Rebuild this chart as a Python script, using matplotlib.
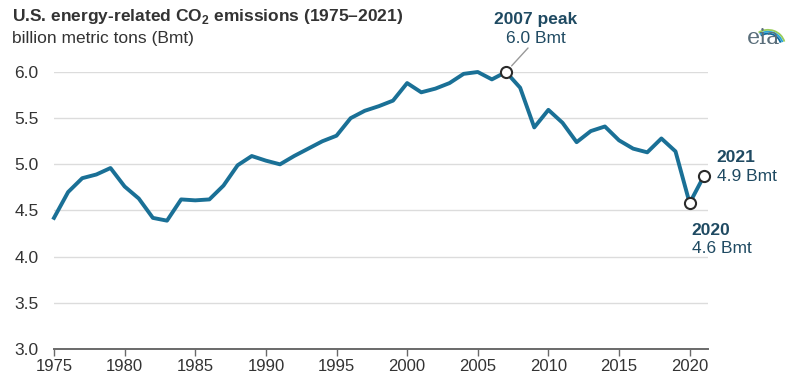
import numpy as np
import matplotlib
matplotlib.use("Agg")
import matplotlib.pyplot as plt
from matplotlib.patches import Arc

############################
# DATA
############################

years = list(range(1975, 2022))
emissions_bmt = [
    4.42, 4.70, 4.85, 4.89, 4.96, 4.76, 4.63, 4.42, 4.39, 4.62,  # 1975-1984
    4.61, 4.62, 4.77, 4.99, 5.09, 5.04, 5.00, 5.09, 5.17, 5.25,  # 1985-1994
    5.31, 5.50, 5.58, 5.63, 5.69, 5.88, 5.78, 5.82, 5.88, 5.98,  # 1995-2004
    6.00, 5.92, 6.00, 5.83, 5.40, 5.59, 5.45, 5.24, 5.36, 5.41,  # 2005-2014
    5.26, 5.17, 5.13, 5.28, 5.14, 4.58, 4.87,                    # 2015-2021
]

highlight_years = [2007, 2020, 2021]
highlight_bold = ["2007 peak", "2020", "2021"]
highlight_value = ["6.0 Bmt", "4.6 Bmt", "4.9 Bmt"]

yticks = [3.0, 3.5, 4.0, 4.5, 5.0, 5.5, 6.0]
xticks = list(range(1975, 2021, 5))

title = "U.S. energy-related CO$_2$ emissions (1975\u20132021)"
subtitle = "billion metric tons (Bmt)"

############################
# STYLE
############################

plt.rcParams["font.family"] = ["Liberation Sans", "DejaVu Sans"]
plt.rcParams["mathtext.fontset"] = "custom"
plt.rcParams["mathtext.rm"] = "Liberation Sans:bold"
line_color = "#1a7096"
label_color = "#1f4a62"
text_color = "#333333"
grid_color = "#dcdcdc"

############################
# PLOT
############################

fig = plt.figure(figsize=(7.86, 3.80), dpi=100)
ax = fig.add_axes([54 / 786, 1 - 349 / 380, (708 - 54) / 786, (349 - 72) / 380])

ax.plot(years, emissions_bmt, color=line_color, linewidth=2.8, clip_on=False,
        solid_joinstyle="round", zorder=3)

for yr in highlight_years:
    val = emissions_bmt[years.index(yr)]
    ax.plot(yr, val, marker="o", markersize=8, markerfacecolor="white",
            markeredgecolor="#2b2b2b", markeredgewidth=1.5, clip_on=False, zorder=4)

ax.set_xlim(1975, 2021.3)
ax.set_ylim(3.0, 6.0)
ax.set_xticks(xticks)
ax.set_yticks(yticks)
ax.set_yticklabels([f"{v:.1f}" for v in yticks])

ax.grid(axis="y", color=grid_color, linewidth=1.0)
ax.set_axisbelow(True)
for side in ["top", "right", "left"]:
    ax.spines[side].set_visible(False)
ax.spines["bottom"].set_color("#6a6a6a")
ax.spines["bottom"].set_linewidth(1.4)
ax.tick_params(axis="x", direction="out", length=5, width=1.0, color="#6a6a6a",
               labelsize=12, labelcolor=text_color, pad=2)
ax.tick_params(axis="y", length=0, labelsize=12.5, labelcolor=text_color, pad=11)

# ── Annotations ──────────────────────────────────────────────────────────────
v2007 = emissions_bmt[years.index(2007)]
ax.annotate(highlight_bold[0], (2007, v2007), xytext=(30, 53), textcoords="offset pixels",
            ha="center", va="center", fontsize=12.5, fontweight="bold", color=label_color)
ax.annotate(highlight_value[0], (2007, v2007), xytext=(30, 34), textcoords="offset pixels",
            ha="center", va="center", fontsize=12.5, color=label_color)
ax.annotate("", (2007, v2007), xytext=(22, 24), textcoords="offset pixels",
            arrowprops=dict(arrowstyle="-", color="#999999", lw=1.0,
                            shrinkA=0, shrinkB=6))

v2020 = emissions_bmt[years.index(2020)]
ax.annotate(highlight_bold[1], (2020, v2020), xytext=(2, -27), textcoords="offset pixels",
            ha="left", va="center", fontsize=12.5, fontweight="bold", color=label_color,
            annotation_clip=False)
ax.annotate(highlight_value[1], (2020, v2020), xytext=(2, -45), textcoords="offset pixels",
            ha="left", va="center", fontsize=12.5, color=label_color, annotation_clip=False)

v2021 = emissions_bmt[years.index(2021)]
ax.annotate(highlight_bold[2], (2021, v2021), xytext=(13, 19), textcoords="offset pixels",
            ha="left", va="center", fontsize=12.5, fontweight="bold", color=label_color,
            annotation_clip=False)
ax.annotate(highlight_value[2], (2021, v2021), xytext=(13, 0), textcoords="offset pixels",
            ha="left", va="center", fontsize=12.5, color=label_color, annotation_clip=False)

# ── Titles ───────────────────────────────────────────────────────────────────
fig.text(12 / 786, 1 - 17 / 380, title, fontsize=12.5, fontweight="bold",
         color=text_color, va="center", ha="left")
fig.text(12 / 786, 1 - 39 / 380, subtitle, fontsize=12.5, color=text_color,
         va="center", ha="left")

# ── eia logo (approximation) ─────────────────────────────────────────────────
fig.text(764 / 786, 1 - 38 / 380, "eia", fontsize=16, family="serif",
         color="#5a6e7a", ha="center", va="center")
for w, c in [(34, "#9acd5a"), (30, "#2aa3d8"), (26, "#0d6a9c")]:
    fig.patches.append(Arc((768, 380 - 46), w, w * 0.95, theta1=15, theta2=125,
                           transform=None, color=c, lw=1.3))

fig.savefig("out.png", dpi=100)
